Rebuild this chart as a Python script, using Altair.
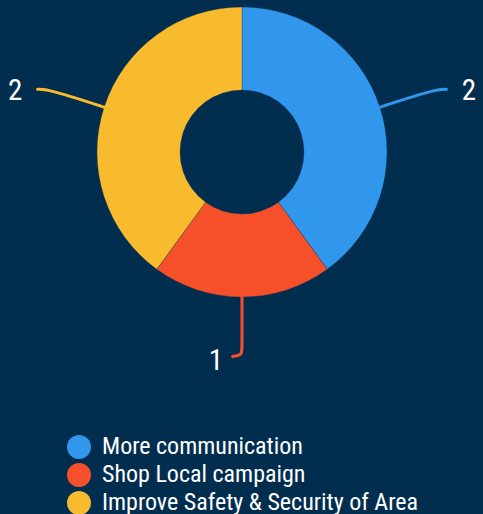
import math
import altair as alt
import pandas as pd

categories = ["More communication", "Shop Local campaign", "Improve Safety & Security of Area"]
values = [2, 1, 2]
colors = ["#3197EC", "#F6502A", "#F8BB2E"]
bg = "#012E4F"

W, H = 483, 514
CX, CY, R, R_IN = 242, 152, 145, 62
FONT = "Roboto Condensed, Liberation Sans Narrow, Roboto, sans-serif"

# slice table
arc_df = pd.DataFrame({"cat": categories, "value": values, "idx": list(range(len(values)))})

# leader lines computed from slice mid angles (unit = outer radius)
total = sum(values)
line_rows, label_rows = [], []
cum = 0
for i, (c, v) in enumerate(zip(categories, values)):
    mid = 2 * math.pi * (cum + v / 2) / total
    cum += v
    s, co = math.sin(mid), math.cos(mid)
    if abs(s) > 0.3:
        sign = 1 if s > 0 else -1
        pts = [(0.95 * s, 0.95 * co), (1.4 * s, 1.4 * co), (sign * 1.41, 1.4 * co)]
        lab = (sign * 1.515, 1.4 * co - 0.01, "left" if sign > 0 else "right")
    else:
        pts = [(0.95 * s, 0.95 * co), (0, -1.36), (0, -1.40), (-0.065, -1.41)]
        lab = (-0.13, -1.44, "right")
    for k, (u, w) in enumerate(pts):
        line_rows.append({"cat": c, "k": k, "u": u, "v": w})
    label_rows.append({"cat": c, "u": lab[0], "v": lab[1], "side": lab[2], "txt": str(v)})

line_df = pd.DataFrame(line_rows)
label_df = pd.DataFrame(label_rows)

xs = alt.Scale(domain=[-CX / R, (W - CX) / R], nice=False, zero=False)
ys = alt.Scale(domain=[(CY - H) / R, CY / R], nice=False, zero=False)
cscale = alt.Scale(domain=categories, range=colors)

arcs = alt.Chart(arc_df).mark_arc(radius=R, innerRadius=R_IN, stroke=bg, strokeWidth=0.3).encode(
    theta=alt.Theta("value:Q", stack=True),
    order=alt.Order("idx:Q"),
    color=alt.Color("cat:N", scale=cscale, sort=categories,
                    legend=alt.Legend(title=None, orient="none", legendX=67, legendY=435,
                                      symbolType="circle", symbolSize=576, symbolStrokeWidth=0,
                                      labelFontSize=24, labelColor="white", labelFont=FONT,
                                      rowPadding=4, padding=0, labelOffset=11, labelLimit=400)),
    x=alt.value(CX), y=alt.value(CY),
)

lines = alt.Chart(line_df).mark_line(strokeWidth=3, interpolate="basis", strokeCap="round").encode(
    x=alt.X("u:Q", scale=xs, axis=None),
    y=alt.Y("v:Q", scale=ys, axis=None),
    detail="cat:N",
    order="k:Q",
    stroke=alt.Stroke("cat:N", scale=cscale, legend=None),
)

lab_left = alt.Chart(label_df).transform_filter(alt.datum.side == "left").mark_text(
    align="left", baseline="middle", fontSize=29, font=FONT, color="white").encode(
    x=alt.X("u:Q", scale=xs, axis=None), y=alt.Y("v:Q", scale=ys, axis=None), text="txt:N")
lab_right = alt.Chart(label_df).transform_filter(alt.datum.side == "right").mark_text(
    align="right", baseline="middle", fontSize=29, font=FONT, color="white").encode(
    x=alt.X("u:Q", scale=xs, axis=None), y=alt.Y("v:Q", scale=ys, axis=None), text="txt:N")

chart = alt.layer(arcs, lines, lab_left, lab_right).properties(
    width=W, height=H, background=bg, padding=0,
    autosize=alt.AutoSizeParams(type="none"),
).configure_view(stroke=None)

chart.save("out.html", embed_options={"renderer": "svg", "actions": False})
